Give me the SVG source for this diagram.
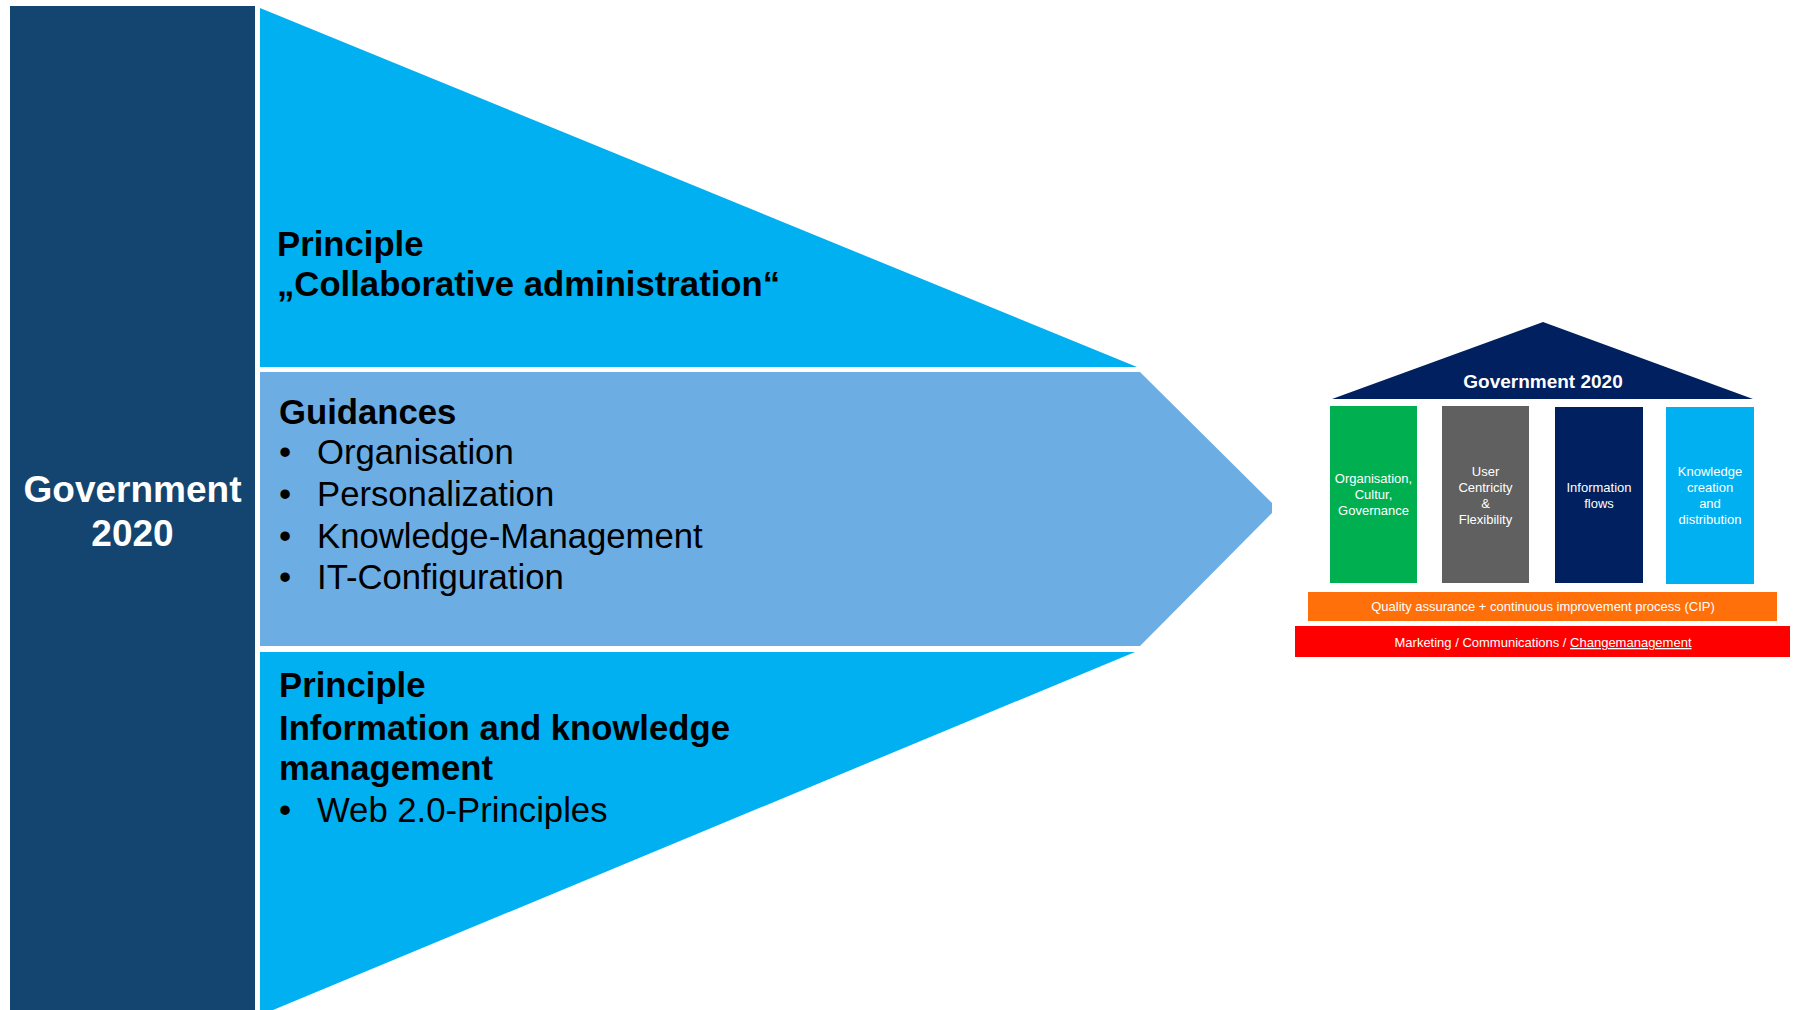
<svg xmlns="http://www.w3.org/2000/svg" width="1793" height="1010" viewBox="0 0 1793 1010">
<style>
  text { font-family: "Liberation Sans", Arial, sans-serif; }
  .blk { fill: #000; }
  .b { font-weight: bold; }
  .big { font-size: 34.7px; }
  .w { fill: #fff; }
  .pl { font-size: 13px; fill: #fff; text-anchor: middle; }
</style>
<rect width="1793" height="1010" fill="#fff"/>

<g id="left-panel">
  <rect x="10" y="6" width="245" height="1004" fill="#134570"/>
  <text x="132.5" y="502" class="w b" font-size="37" text-anchor="middle">Government</text>
  <text x="132.5" y="546" class="w b" font-size="37" text-anchor="middle">2020</text>
</g>

<g id="principle-collaborative">
  <polygon points="260,8 1137,367 260,367" fill="#00B0F0"/>
  <text x="277" y="256" class="blk b big">Principle</text>
  <text x="277" y="296" class="blk b big">„Collaborative administration“</text>
</g>

<g id="guidances">
  <polygon points="260,372 1140,372 1272,503 1272,513 1140,646 260,646" fill="#6CADE4"/>
  <text x="279" y="424" class="blk b big">Guidances</text>
  <g class="blk big">
    <text x="279" y="464">•</text><text x="317" y="464">Organisation</text>
    <text x="279" y="506">•</text><text x="317" y="506">Personalization</text>
    <text x="279" y="548">•</text><text x="317" y="548">Knowledge-Management</text>
    <text x="279" y="589">•</text><text x="317" y="589">IT-Configuration</text>
  </g>
</g>

<g id="principle-information">
  <polygon points="260,652 1135,652 273,1010 260,1010" fill="#00B0F0"/>
  <text x="279" y="697" class="blk b big">Principle</text>
  <text x="279" y="740" class="blk b big">Information and knowledge</text>
  <text x="279" y="780" class="blk b big">management</text>
  <text x="279" y="822" class="blk big">•</text>
  <text x="317" y="822" class="blk big">Web 2.0-Principles</text>
</g>

<g id="house">
  <g id="roof">
    <polygon points="1543,322 1753,399 1332,399" fill="#002060"/>
    <text x="1543" y="388" class="w b" font-size="19" text-anchor="middle">Government 2020</text>
  </g>
  <g id="pillar-organisation">
    <rect x="1330" y="406" width="87" height="177" fill="#00B050"/>
    <text class="pl"><tspan x="1373.5" y="483">Organisation,</tspan><tspan x="1373.5" y="499">Cultur,</tspan><tspan x="1373.5" y="515">Governance</tspan></text>
  </g>
  <g id="pillar-user">
    <rect x="1442" y="406" width="87" height="177" fill="#606060"/>
    <text class="pl"><tspan x="1485.5" y="476">User</tspan><tspan x="1485.5" y="492">Centricity</tspan><tspan x="1485.5" y="508">&amp;</tspan><tspan x="1485.5" y="524">Flexibility</tspan></text>
  </g>
  <g id="pillar-information">
    <rect x="1555" y="407" width="88" height="176" fill="#002060"/>
    <text class="pl"><tspan x="1599" y="492">Information</tspan><tspan x="1599" y="508">flows</tspan></text>
  </g>
  <g id="pillar-knowledge">
    <rect x="1666" y="407" width="88" height="177" fill="#00B0F0"/>
    <text class="pl"><tspan x="1710" y="476">Knowledge</tspan><tspan x="1710" y="492">creation</tspan><tspan x="1710" y="508">and</tspan><tspan x="1710" y="524">distribution</tspan></text>
  </g>
  <g id="quality-bar">
    <rect x="1308" y="592" width="469" height="29" fill="#FF6F0A"/>
    <text x="1543" y="611" class="pl">Quality assurance + continuous improvement process (CIP)</text>
  </g>
  <g id="marketing-bar">
    <rect x="1295" y="626" width="495" height="31" fill="#FF0000"/>
    <text x="1543" y="647" class="pl">Marketing / Communications / <tspan text-decoration="underline">Changemanagement</tspan></text>
  </g>
</g>
</svg>
